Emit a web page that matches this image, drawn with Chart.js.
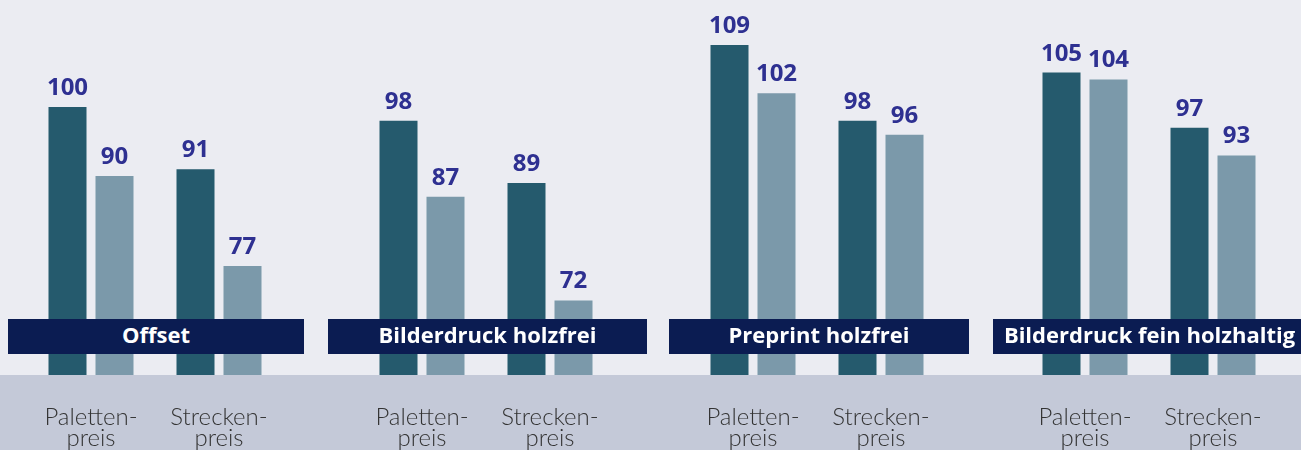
<!DOCTYPE html>
<html>
<head>
<meta charset="utf-8">
<script src="https://cdn.jsdelivr.net/npm/chart.js@4"></script>
<style>
  html, body { margin: 0; padding: 0; }
  body { width: 1301px; height: 450px; overflow: hidden; background: #ebecf2; position: relative; }
  .band { position: absolute; left: 0; top: 375px; width: 1301px; height: 75px; background: #c4c9d8; }
  canvas { position: absolute; top: 0; }
  .banner { position: absolute; top: 319px; height: 35px; line-height: 35px; background: #0b1c52; color: #fff;
            font: bold 22px "Open Sans", sans-serif; text-align: center; white-space: nowrap; z-index: 2; }
</style>
</head>
<body>
<div class="band"></div>
<script>
const groups = ['Offset', 'Bilderdruck holzfrei', 'Preprint holzfrei', 'Bilderdruck fein holzhaltig']
const priceTypes = [['Paletten-', 'preis'], ['Strecken-', 'preis']]
// dunkle Balken / helle Balken, je Gruppe [Palettenpreis, Streckenpreis]
const darkValues = [[100, 91], [98, 89], [109, 98], [105, 97]]
const lightValues = [[90, 77], [87, 72], [102, 96], [104, 93]]

const yMin = 61.2
const yMax = 115.5

const chartLeft = [27, 358, 689, 1021]
const chartW = 256
const bannerLeft = [8, 328, 669, 993]
const bannerW = [296, 319, 300, 313]

const valueLabels = {
    id: 'valueLabels',
    afterDatasetsDraw(chart) {
        const ctx = chart.ctx
        ctx.save()
        ctx.fillStyle = '#2e3091'
        ctx.font = 'bold 24px "Open Sans"'
        ctx.textAlign = 'center'
        ctx.textBaseline = 'alphabetic'
        chart.data.datasets.forEach((ds, i) => {
            chart.getDatasetMeta(i).data.forEach((bar, j) => {
                ctx.fillText(ds.data[j], bar.x, bar.y - 12)
            })
        })
        ctx.restore()
    }
}

groups.forEach((name, g) => {
    let canvas = document.createElement('canvas')
    canvas.width = chartW
    canvas.height = 450
    canvas.style.left = chartLeft[g] + 'px'
    document.body.appendChild(canvas)

    new Chart(canvas, {
        type: 'bar',
        data: {
            labels: priceTypes,
            datasets: [
                { data: darkValues[g], backgroundColor: '#255a6d' },
                { data: lightValues[g], backgroundColor: '#7b99aa' }
            ]
        },
        options: {
            responsive: false,
            animation: false,
            categoryPercentage: 94 / 128,
            barPercentage: 38 / 47,
            layout: { padding: 0 },
            plugins: { legend: { display: false }, tooltip: { enabled: false } },
            scales: {
                y: { display: false, min: yMin, max: yMax },
                x: {
                    grid: { display: false, drawTicks: false },
                    border: { display: false },
                    ticks: {
                        color: '#333333',
                        padding: 31,
                        font: { family: 'Lato', size: 24, weight: '300', lineHeight: 0.9 }
                    },
                    afterFit: (scale) => {
                        scale.height = 75
                        scale.paddingLeft = 0
                        scale.paddingRight = 0
                    }
                }
            }
        },
        plugins: [valueLabels]
    })

    let banner = document.createElement('div')
    banner.className = 'banner'
    banner.style.left = bannerLeft[g] + 'px'
    banner.style.width = bannerW[g] + 'px'
    banner.textContent = name
    document.body.appendChild(banner)
})
</script>
</body>
</html>
